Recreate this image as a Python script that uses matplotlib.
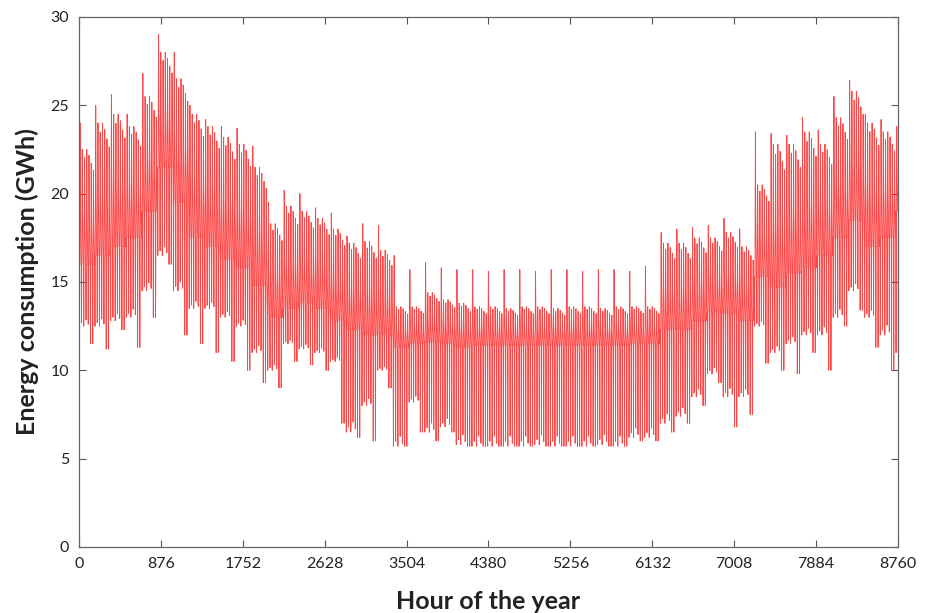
import matplotlib
matplotlib.use("Agg")
import matplotlib.pyplot as plt
import numpy as np

# ---- data (weekly envelope of hourly consumption, GWh) ----
# week index 0..52 ; typical weekday daily maximum
wk_high = [22.5, 24.0, 24.5, 23.8, 25.5, 28.0, 26.5, 24.5, 23.8, 23.2,
           22.8, 21.5, 18.3, 19.3, 19.0, 18.6, 18.0, 17.2, 17.3, 16.8,
           13.6, 13.6, 14.4, 14.0, 13.8, 13.6, 13.6, 13.5, 13.6, 13.6,
           13.5, 13.6, 13.6, 13.5, 13.6, 13.6, 13.6, 17.2, 17.2, 17.5,
           17.5, 17.8, 17.0, 20.5, 22.8, 22.8, 23.5, 22.8, 24.3, 25.8,
           24.0, 23.5, 23.5]
# highest day of the week (first working day)
wk_peak = [24.0, 25.0, 25.6, 24.5, 26.8, 29.0, 28.0, 25.0, 24.2, 23.8,
           23.7, 22.7, 19.5, 20.2, 20.0, 19.2, 18.9, 17.6, 18.3, 18.2,
           16.5, 15.7, 16.1, 15.8, 15.7, 15.7, 15.6, 15.7, 15.7, 15.6,
           15.7, 15.7, 15.6, 15.7, 15.7, 15.6, 15.9, 17.8, 18.0, 18.1,
           18.2, 18.6, 18.0, 23.5, 23.4, 23.3, 24.3, 23.6, 25.5, 26.4,
           24.5, 24.2, 23.8]
# typical weekday daily minimum
wk_low = [12.5, 12.5, 12.8, 13.0, 14.5, 16.5, 14.5, 13.5, 13.5, 13.0,
          12.5, 11.0, 10.0, 11.5, 11.2, 11.0, 10.5, 6.5, 8.0, 10.0,
          5.7, 8.2, 6.5, 6.8, 5.8, 5.7, 5.7, 5.7, 5.7, 5.8,
          5.7, 5.7, 5.7, 5.8, 5.7, 6.2, 6.2, 7.0, 7.4, 8.5,
          9.8, 8.5, 8.5, 12.5, 11.0, 11.5, 12.0, 12.0, 13.0, 14.5,
          13.0, 12.0, 11.0]
# weekend daily minimum
wk_wend_low = [11.5, 11.2, 12.3, 11.3, 13.0, 16.0, 12.0, 11.5, 11.0, 10.5,
               10.0, 9.3, 9.0, 10.5, 10.3, 10.0, 7.0, 6.2, 6.0, 9.0,
               5.7, 6.5, 6.0, 6.5, 5.7, 5.7, 5.7, 5.7, 5.7, 5.7,
               5.7, 5.7, 5.7, 5.7, 5.7, 6.0, 6.0, 6.5, 7.0, 8.0,
               9.3, 6.8, 7.5, 10.4, 10.0, 9.8, 11.0, 10.0, 12.5, 13.4,
               11.3, 10.0, 11.0]
# level where the load sits most of the day (dense band)
wk_base = [16.0, 16.5, 17.0, 17.5, 19.0, 21.5, 19.5, 17.5, 17.0, 16.3,
           15.8, 14.8, 13.0, 13.5, 13.8, 13.5, 12.8, 12.3, 12.0, 12.0,
           11.3, 11.5, 11.6, 11.5, 11.3, 11.4, 11.4, 11.4, 11.4, 11.4,
           11.4, 11.4, 11.4, 11.4, 11.4, 11.5, 11.5, 12.3, 12.3, 12.8,
           13.3, 13.2, 12.8, 15.3, 14.7, 15.5, 15.8, 16.5, 17.5, 18.5,
           17.0, 17.5, 19.0]
# share of the weekly (high - base) swing reached on each day of the week
dow_high_share = [1.0, 1.0, 0.93, 1.0, 0.95, 0.88, 0.82]
dow_low_share = [1.0, 0.95, 1.0, 0.9, 0.97, 1.0, 1.0]

x_ticks = [0, 876, 1752, 2628, 3504, 4380, 5256, 6132, 7008, 7884, 8760]
y_ticks = [0, 5, 10, 15, 20, 25, 30]

# ---- hourly trace: each day goes base -> low -> base -> high -> shoulder -> base ----
prof_hours = [0, 3, 6, 8, 11, 14, 18, 21]
hx, hy = [], []
for d in range(365):
    w, dow = divmod(d, 7)
    b = wk_base[w]
    if dow == 0:
        hi = wk_peak[w]
    else:
        hi = b + dow_high_share[dow] * (wk_high[w] - b)
    lo_ref = wk_wend_low[w] if dow in (5, 6) else wk_low[w]
    lo = b - dow_low_share[dow] * (b - lo_ref)
    lv = [b, lo, b, b + 0.35 * (hi - b), hi, b + 0.5 * (hi - b), b + 0.2 * (hi - b), b]
    for h, v in zip(prof_hours, lv):
        hx.append(d * 24 + h)
        hy.append(v)

plt.rcParams['font.family'] = ['Lato', 'DejaVu Sans']
fig = plt.figure(figsize=(9.25, 6.13), dpi=100)
ax = fig.add_axes([0.0854, 0.1077, 0.8854, 0.8646])
ax.plot(hx, hy, color='#ff2626', lw=0.65, alpha=0.85)

ax.set_xlim(0, 8760)
ax.set_ylim(0, 30)
ax.set_xticks(x_ticks)
ax.set_yticks(y_ticks)
ax.tick_params(direction='in', length=5, width=0.8, colors='#555555',
               labelcolor='#222222', labelsize=11.5, top=True, right=True, pad=7)
for s in ax.spines.values():
    s.set_color('#666666')
    s.set_linewidth(0.9)
ax.set_xlabel('Hour of the year', fontsize=18, fontweight='bold', color='#222222', labelpad=14)
ax.set_ylabel('Energy consumption (GWh)', fontsize=18, fontweight='bold', color='#222222', labelpad=8)

fig.savefig('out.png', dpi=100)
